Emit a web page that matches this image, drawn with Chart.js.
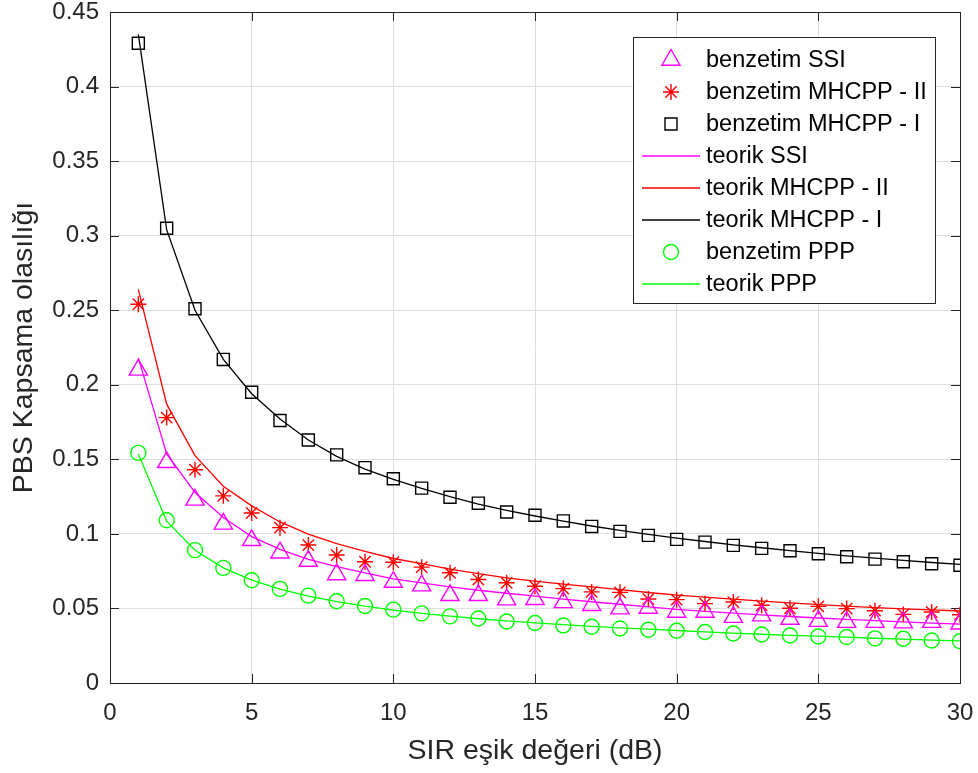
<!DOCTYPE html>
<html>
<head>
<meta charset="utf-8">
<script src="https://cdn.jsdelivr.net/npm/chart.js@4.4.0/dist/chart.umd.min.js"></script>
<style>
  html, body { margin: 0; padding: 0; background: #fff; }
  canvas { display: block; }
</style>
</head>
<body>
<canvas id="myChart" width="978" height="773"></canvas>
<script>
// SIR threshold (dB)
const sirDb = [1,2,3,4,5,6,7,8,9,10,11,12,13,14,15,16,17,18,19,20,21,22,23,24,25,26,27,28,29,30];

// simulation (benzetim)
const simSSI = [0.210,0.148,0.1228,0.1067,0.0957,0.0874,0.0818,0.0728,0.0723,0.0677,
  0.0653,0.0588,0.0588,0.0559,0.0562,0.0541,0.0521,0.0499,0.0503,0.0476,
  0.0476,0.0442,0.0452,0.0429,0.0415,0.0408,0.0408,0.0405,0.0408,0.0397];
const simMHCPP2 = [0.254,0.178,0.143,0.1255,0.114,0.1042,0.0925,0.0858,0.0813,0.081,
  0.0777,0.0739,0.0694,0.0672,0.0649,0.0633,0.0611,0.0608,0.0563,0.0559,
  0.0532,0.0543,0.0521,0.0501,0.0514,0.0499,0.0485,0.046,0.0476,0.0458];
const simMHCPP1 = [0.429,0.305,0.251,0.217,0.195,0.176,0.163,0.153,0.1444,0.137,
  0.1307,0.1246,0.1206,0.1147,0.1125,0.1087,0.105,0.1017,0.099,0.0963,
  0.0945,0.0923,0.0903,0.0887,0.0867,0.0847,0.0831,0.0813,0.080,0.079];
const simPPP = [0.1543,0.1091,0.0891,0.0772,0.0689,0.0631,0.0586,0.0548,0.0516,0.0492,
  0.0467,0.0447,0.0433,0.0412,0.0402,0.0386,0.0377,0.0366,0.0357,0.035,
  0.0342,0.0332,0.0325,0.0319,0.0312,0.0308,0.0299,0.0297,0.0285,0.028];

// theory (teorik)
const thSSI = [0.218,0.1536,0.1278,0.111,0.0982,0.0896,0.0829,0.078,0.0739,0.0699,
  0.0672,0.0645,0.0622,0.0602,0.0582,0.0563,0.0545,0.0528,0.0510,0.0494,
  0.0481,0.0469,0.0457,0.0446,0.0436,0.0427,0.0418,0.0410,0.0402,0.0395];
const thMHCPP2 = [0.264,0.187,0.1525,0.132,0.1188,0.108,0.0999,0.0934,0.0883,0.0835,
  0.080,0.0764,0.0733,0.0705,0.0683,0.0663,0.0644,0.0626,0.0607,0.0590,
  0.0576,0.0562,0.0549,0.0537,0.0525,0.0515,0.0506,0.0497,0.0490,0.0483];
const thMHCPP1 = [0.435,0.304,0.250,0.217,0.194,0.177,0.163,0.152,0.1435,0.1365,
  0.1305,0.125,0.120,0.1158,0.1120,0.1085,0.1053,0.1024,0.0997,0.0972,
  0.0949,0.0927,0.0907,0.0888,0.0870,0.0853,0.0837,0.0822,0.0808,0.0795];
const thPPP = [0.1535,0.1085,0.0890,0.0772,0.0690,0.0630,0.0583,0.0546,0.0515,0.0489,
  0.0467,0.0448,0.0431,0.0416,0.0403,0.0391,0.0380,0.0370,0.0361,0.0352,
  0.0343,0.0335,0.0327,0.0320,0.0314,0.0307,0.0300,0.0294,0.0288,0.0283];

const FONT = "'Liberation Sans', Arial, Helvetica, sans-serif";
const AX = '#262626';

function pts(ys) { return sirDb.map((x, i) => ({x: x, y: ys[i]})); }

function sim(label, ys, color, style, r) {
  return { label: label, data: pts(ys), showLine: false, borderColor: color,
    backgroundColor: 'rgba(0,0,0,0)', pointStyle: style, pointRadius: r,
    pointBorderWidth: 1.4, pointHoverRadius: r };
}
function theory(label, ys, color) {
  return { label: label, data: pts(ys), borderColor: color, backgroundColor: color,
    borderWidth: 1.3, pointRadius: 0, tension: 0 };
}

// box, inward ticks
const matlabAxes = {
  id: 'matlabAxes',
  beforeDatasetsDraw(chart) {
    const {ctx, chartArea: a, scales} = chart;
    ctx.save();
    ctx.strokeStyle = AX;
    ctx.lineWidth = 1;
    ctx.beginPath();
    scales.x.ticks.forEach(t => {
      const px = Math.round(scales.x.getPixelForValue(t.value)) + 0.5;
      ctx.moveTo(px, a.bottom); ctx.lineTo(px, a.bottom - 9);
      ctx.moveTo(px, a.top); ctx.lineTo(px, a.top + 9);
    });
    scales.y.ticks.forEach(t => {
      const py = Math.round(scales.y.getPixelForValue(t.value)) + 0.5;
      ctx.moveTo(a.left, py); ctx.lineTo(a.left + 9, py);
      ctx.moveTo(a.right, py); ctx.lineTo(a.right - 9, py);
    });
    ctx.stroke();
    ctx.strokeRect(Math.round(a.left) + 0.5, Math.round(a.top) + 0.5,
      Math.round(a.right - a.left), Math.round(a.bottom - a.top));
    ctx.restore();
  }
};

const boxLegend = {
  id: 'boxLegend',
  afterDatasetsDraw(chart) {
    const {ctx, chartArea: a} = chart;
    const w = 302, h = 266;
    const x0 = a.right - 25 - w, y0 = a.top + 25;
    ctx.save();
    ctx.fillStyle = '#fff';
    ctx.fillRect(x0, y0, w, h);
    ctx.strokeStyle = AX;
    ctx.lineWidth = 1;
    ctx.strokeRect(x0 + 0.5, y0 + 0.5, w, h);
    ctx.font = '23.5px ' + FONT;
    ctx.textBaseline = 'middle';
    ctx.textAlign = 'left';
    chart.data.datasets.forEach((ds, i) => {
      const cy = y0 + 23 + i * 32;
      if (ds.showLine === false) {
        ctx.strokeStyle = ds.borderColor;
        ctx.fillStyle = 'rgba(0,0,0,0)';
        ctx.lineWidth = ds.pointBorderWidth;
        Chart.helpers.drawPoint(ctx, {pointStyle: ds.pointStyle, radius: ds.pointRadius,
          borderWidth: ds.pointBorderWidth, rotation: 0}, x0 + 38, cy);
      } else {
        ctx.strokeStyle = ds.borderColor;
        ctx.lineWidth = ds.borderWidth;
        ctx.beginPath();
        ctx.moveTo(x0 + 9, cy); ctx.lineTo(x0 + 67, cy);
        ctx.stroke();
      }
      ctx.fillStyle = '#000';
      ctx.fillText(ds.label, x0 + 73, cy + 1);
    });
    ctx.restore();
  }
};

const myChart = new Chart(document.getElementById('myChart').getContext('2d'), {
  type: 'line',
  data: {
    datasets: [
      sim('benzetim SSI', simSSI, '#ff00ff', 'triangle', 10.5),
      sim('benzetim MHCPP - II', simMHCPP2, '#ff0000', 'star', 8),
      sim('benzetim MHCPP - I', simMHCPP1, '#000000', 'rect', 8.5),
      theory('teorik SSI', thSSI, '#ff00ff'),
      theory('teorik MHCPP - II', thMHCPP2, '#ff0000'),
      theory('teorik MHCPP - I', thMHCPP1, '#000000'),
      sim('benzetim PPP', simPPP, '#00ff00', 'circle', 7.5),
      theory('teorik PPP', thPPP, '#00ff00')
    ]
  },
  options: {
    responsive: false,
    animation: false,
    devicePixelRatio: 1,
    layout: { padding: { left: 0, right: 18, top: 12, bottom: 0 } },
    plugins: { legend: { display: false }, tooltip: { enabled: false } },
    scales: {
      x: {
        type: 'linear', min: 0, max: 30,
        afterFit: s => { s.height = 90; s.paddingLeft = 0; s.paddingRight = 0; },
        grid: { color: '#dedede', drawTicks: false },
        border: { display: false },
        ticks: { stepSize: 5, color: AX, padding: 16, font: { family: FONT, size: 24 } },
        title: { display: true, text: 'SIR eşik değeri (dB)', color: AX,
          font: { family: FONT, size: 28.5 }, padding: { top: 0, bottom: 5 } }
      },
      y: {
        min: 0, max: 0.45,
        afterFit: s => { s.width = 110; s.paddingTop = 0; s.paddingBottom = 0; },
        grid: { color: '#dedede', drawTicks: false },
        border: { display: false },
        ticks: { stepSize: 0.05, color: AX, padding: 11, font: { family: FONT, size: 24 },
          callback: v => String(+v.toFixed(2)) },
        title: { display: true, text: 'PBS Kapsama olasılığı', color: AX,
          font: { family: FONT, size: 28.5 }, padding: { top: 7, bottom: 0 } }
      }
    }
  },
  plugins: [matlabAxes, boxLegend]
});
</script>
</body>
</html>
